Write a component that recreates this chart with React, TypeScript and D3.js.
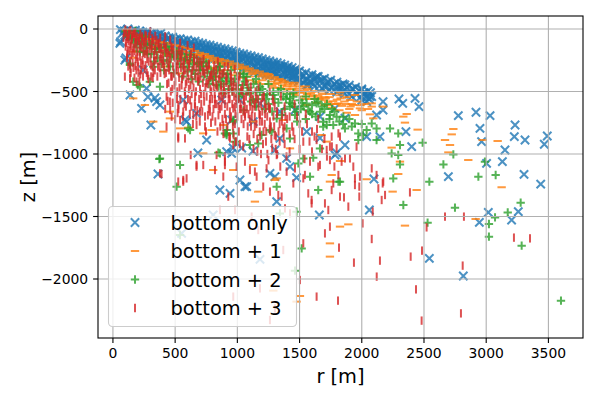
import * as d3 from "d3";

type P = [number, number];

// r [m], z [m]
const bottomOnly: P[] = [
  [60, -5], [90, -15], [120, 0], [150, -20], [180, -10], [210, -30], [240, -25], [270, -40], [300, -35], [330, -50],
  [360, -45], [390, -60], [420, -55], [450, -70], [480, -65], [510, -80], [540, -78], [570, -90], [600, -88], [630, -100],
  [660, -98], [690, -110], [720, -115], [750, -125], [780, -130], [810, -140], [840, -145], [870, -155], [900, -160], [930, -170],
  [960, -175], [990, -185], [1020, -195], [1050, -200], [1080, -210], [1110, -215], [1140, -225], [1170, -230], [1200, -240], [1230, -250],
  [1260, -255], [1290, -265], [1320, -270], [1350, -280], [1380, -290], [1410, -300], [1440, -310], [1470, -320], [1500, -335], [1550, -350],
  [1600, -365], [1650, -380], [1700, -395], [1750, -410], [1800, -425], [1850, -440], [1900, -450], [1950, -465], [2000, -480], [2050, -495],
  [100, -60], [160, -55], [230, -70], [290, -85], [350, -95], [420, -100], [480, -110], [540, -125], [610, -140], [680, -150],
  [740, -165], [800, -180], [860, -195], [920, -210], [980, -225], [1040, -240], [1100, -255], [1160, -270], [1220, -285], [1280, -300],
  [1340, -320], [1400, -335], [1460, -350], [1530, -380], [1620, -400], [1720, -430], [1820, -455], [1920, -480], [2020, -510], [2080, -540],
  [200, -110], [320, -130], [450, -150], [560, -170], [700, -200], [850, -230], [1000, -260], [1150, -300], [1300, -340], [1450, -380],
  [1580, -420], [1900, -520], [2060, -560],
  [75, -35], [95, -50], [130, -25], [145, -55], [170, -45], [195, -62], [215, -15], [235, -48], [255, -80], [275, -22],
  [295, -66], [315, -40], [345, -78], [365, -70], [385, -35], [405, -88], [435, -82], [465, -95], [495, -90], [525, -105],
  [555, -112], [585, -118], [615, -122], [645, -130], [675, -135], [705, -140], [735, -150], [765, -155], [795, -160], [825, -172],
  [855, -178], [885, -185], [915, -190], [945, -200], [975, -205], [1005, -215], [1035, -222], [1065, -230], [1095, -235], [1125, -245],
  [1155, -252], [1185, -262], [1215, -268], [1245, -278], [1275, -285], [1305, -292], [1335, -302], [1365, -310], [1395, -318], [1425, -325],
  [1455, -335], [1485, -345], [1520, -360], [1575, -372], [1630, -388], [1680, -405], [1730, -420], [1780, -438], [1830, -450], [1880, -468],
  [1930, -480], [1980, -495], [2030, -515], [1250, -320], [1380, -360], [1480, -400], [1600, -430], [1700, -460], [1810, -490], [1990, -545],
  [2000, -570], [2040, -580],
  [710, -170], [745, -185], [790, -195], [830, -205], [870, -220], [905, -235], [945, -245], [985, -255], [1015, -270], [1055, -280],
  [1090, -290], [1130, -300], [1170, -315], [1205, -325], [1245, -335], [1290, -345], [1320, -355], [1360, -365], [1405, -375], [1440, -390],
  [1500, -405], [1545, -415], [1610, -440], [1660, -455], [1755, -470], [1850, -500], [1960, -520], [2070, -510], [2040, -545], [2010, -520],
  [1270, -330], [1190, -300], [1310, -320], [1230, -310], [1350, -300], [1290, -290], [1400, -310], [1470, -370],
  [250, -95], [280, -110], [310, -100], [340, -120], [370, -125], [400, -115], [430, -140], [460, -135], [490, -150], [520, -160],
  [550, -150], [580, -170], [620, -175], [650, -185], [690, -190], [720, -200], [760, -215], [790, -225], [820, -235], [850, -245],
  [880, -250], [910, -260], [940, -270], [970, -275], [1000, -285], [1030, -295], [1060, -305], [1080, -320], [1110, -330], [1140, -340],
  [1170, -350], [1200, -355], [1230, -365], [1260, -370], [1300, -375], [1330, -385], [1370, -395], [1410, -400], [1450, -410], [1490, -420],
  [1530, -430], [1570, -445], [1620, -460], [1680, -475], [1740, -490], [1800, -505], [1860, -520], [1920, -540],
  [62, -101], [105, -232], [137, -528], [230, -635], [305, -768], [362, -1160], [281, -544], [351, -581], [378, -608], [592, -741],
  [683, -992], [753, -888], [914, -981], [1021, -1208], [1035, -952], [1125, -976], [1302, -968], [1396, -1035], [1476, -1189], [1557, -821],
  [1664, -872], [1798, -992], [1664, -408], [1557, -408], [1423, -352], [1206, -312], [1101, -272], [1718, -461],
  [1798, -461], [1865, -448], [1999, -488], [2066, -541], [2171, -581], [2171, -648], [2299, -560], [2329, -595], [2428, -555], [2460, -621],
  [2355, -821], [2401, -941], [2146, -861], [2039, -861], [1865, -928], [1865, -714], [2119, -688], [2776, -693], [2918, -666], [3031, -693],
  [2950, -795], [2963, -901], [3151, -968], [3130, -1061], [3003, -1075], [3232, -768], [3226, -861], [3312, -888], [3467, -922], [3491, -856],
  [3304, -1163], [3438, -1241], [2696, -1181], [2098, -1200],
  [2061, -1448], [2543, -1835], [2816, -1976], [3017, -1467], [2945, -1547], [3258, -1461], [3204, -1528],
  [860, -1288], [941, -1315], [1075, -1261], [1316, -1381], [1659, -1488], [552, -1635], [806, -1488], [1182, -1843],
  [579, -728], [1342, -875], [1785, -1008], [1423, -1101], [1262, -1155], [1302, -1181], [1061, -1261], [954, -995], [965, -952],
  [56, -115], [96, -248], [338, -552], [270, -475], [243, -328], [565, -568], [672, -675],
  [1021, -568], [1128, -741], [1342, -661], [1463, -648], [1664, -701], [1785, -635], [874, -568], [954, -728], [1182, -595], [1557, -448],
  [1637, -381], [1423, -341],
];

const bottomPlus1: P[] = [
  [110, -10], [150, -30], [200, -50], [250, -60], [300, -80], [340, -95], [380, -105], [420, -110], [460, -125], [500, -130],
  [540, -140], [580, -150], [620, -160], [660, -175], [700, -190], [740, -200], [780, -215], [820, -230], [860, -240], [900, -250],
  [940, -260], [980, -275], [1020, -285], [1060, -300], [1100, -315], [1140, -330], [1180, -340], [1220, -355], [1260, -370], [1300, -385],
  [1340, -400], [1380, -420], [1420, -430], [1460, -445], [1500, -460], [1560, -480], [1620, -500], [1680, -520], [1740, -545], [1800, -565],
  [1860, -580], [1920, -600],
  [160, -180], [240, -120], [330, -160], [430, -200], [520, -230], [600, -250], [700, -280], [800, -310], [900, -330], [1000, -350],
  [1100, -380], [1200, -410], [1300, -440], [1400, -480], [1500, -510], [1600, -540], [1700, -570], [1800, -600], [1900, -640], [2000, -650],
  [130, -45], [185, -70], [225, -85], [275, -100], [320, -115], [365, -125], [400, -140], [445, -150], [485, -160], [525, -170],
  [565, -178], [605, -190], [645, -200], [685, -210], [725, -222], [765, -232], [805, -245], [845, -255], [885, -268], [925, -278],
  [965, -290], [1005, -300], [1045, -312], [1085, -325], [1125, -345], [1165, -355], [1205, -368], [1245, -382], [1285, -398], [1325, -412],
  [1365, -430], [1405, -445], [1445, -460], [1490, -478], [1540, -495], [1590, -515], [1650, -535], [1710, -555], [1770, -578], [1840, -615],
  [1880, -545], [1960, -580], [2020, -600], [1600, -500], [1660, -560], [1750, -520], [1540, -560], [1450, -520], [1300, -470], [1150, -420],
  [1010, -320], [1070, -340], [1120, -360], [1180, -380], [1230, -395], [1270, -420], [1320, -430], [1360, -450], [1400, -460], [1440, -480],
  [1480, -495], [1520, -505], [1560, -520], [1610, -530], [1650, -550], [1700, -545], [1730, -585], [1780, -600], [1830, -555], [1870, -600],
  [1910, -620], [1990, -610], [2050, -640], [1550, -460], [1460, -430], [1360, -410], [1250, -360], [1820, -530], [1690, -500],
  [350, -140], [410, -165], [470, -180], [530, -195], [590, -215], [650, -225], [710, -240], [770, -255], [830, -270], [890, -290],
  [950, -305], [990, -320],
  [300, -150], [380, -185], [440, -210], [500, -220], [560, -240], [620, -265], [680, -275], [740, -295], [800, -320], [860, -340],
  [920, -355], [980, -370], [1040, -390], [1100, -410], [1160, -430], [1220, -440], [1280, -455], [1340, -470], [1400, -500], [1470, -530],
  [1530, -540], [1590, -560], [1640, -590], [1700, -610], [1760, -630], [1820, -650], [1880, -670],
  [257, -608], [324, -741], [405, -821], [458, -715], [539, -795], [726, -995], [806, -1128], [967, -1128], [1128, -1088], [726, -835],
  [793, -808], [605, -789], [163, -555], [1423, -955], [1316, -1195], [1744, -1221], [1718, -901], [1677, -848], [1557, -608], [1731, -608],
  [1369, -728], [1128, -741], [887, -768], [458, -661],
  [1825, -507], [1945, -528], [1905, -568], [1810, -595], [1930, -608], [1985, -635], [2080, -595], [2080, -621], [2066, -683], [2093, -715],
  [1945, -688], [2171, -621], [2361, -680], [2334, -701], [2347, -749], [2449, -805], [2736, -800], [2723, -843], [2669, -888], [2709, -928],
  [2696, -987], [2856, -1048], [2972, -888], [3092, -896], [2240, -949], [2307, -1061], [2293, -1160], [2039, -1202], [1825, -1056], [1758, -1168],
  [3124, -1266], [2441, -1288], [2248, -1301], [2347, -1573], [2915, -1520], [1892, -1563], [1825, -1581],
  [1168, -1301], [1141, -1381], [1302, -1208], [1744, -1715], [1744, -1821], [1503, -2136], [1476, -2181], [1289, -2093],
  [110, -8], [160, -230], [431, -300], [539, -355], [700, -208], [753, -221], [833, -381], [874, -275], [190, -180], [245, -180],
];

const bottomPlus2: P[] = [
  [100, -20], [140, -40], [180, -15], [220, -50], [260, -60], [200, -100], [300, -120], [380, -150], [450, -170], [550, -200],
  [650, -230], [750, -270], [850, -300], [950, -330], [1050, -360], [1150, -400], [1250, -440], [1350, -480], [1450, -510], [1550, -540],
  [1650, -580],
  [115, -60], [155, -80], [170, -110], [230, -120], [270, -130], [280, -200], [340, -160], [360, -230], [420, -190], [440, -260],
  [480, -200], [520, -240], [580, -250], [600, -300], [680, -270], [700, -330], [760, -300], [790, -340], [840, -330], [880, -390],
  [920, -360], [980, -400], [1000, -450], [1060, -420], [1090, -470], [1130, -440], [1200, -480], [1240, -520], [1300, -560], [1330, -500],
  [1400, -520], [1420, -590], [1500, -570], [1530, -620], [1600, -610], [1620, -560], [1700, -640], [1720, -600], [1780, -660], [1820, -740],
  [1900, -720], [1920, -780], [2000, -760], [2010, -850], [1550, -720], [1480, -740], [1380, -640], [1250, -600], [1150, -620], [1050, -650],
  [1180, -500], [1230, -560], [1330, -590], [1390, -560], [1440, -600], [1510, -640], [1570, -650], [1630, -700], [1680, -620], [1740, -720],
  [1760, -640], [1850, -760], [1600, -680], [1520, -590], [1460, -620], [1080, -500], [1000, -480], [950, -420], [870, -420], [820, -380],
  [760, -350], [700, -300], [640, -280], [580, -230], [520, -210],
  [260, -150], [310, -200], [330, -260], [390, -280], [410, -330], [460, -300], [490, -350], [540, -280], [560, -380], [600, -340],
  [630, -400], [660, -360], [690, -420], [730, -380], [770, -440], [800, -410], [850, -460], [890, -440], [930, -480], [960, -500],
  [1010, -540], [1040, -520], [1110, -580], [1160, -560], [1220, -640], [1280, -660],
  [190, -145], [245, -185], [137, -288], [200, -448], [378, -1035], [539, -1088], [620, -248], [700, -261], [780, -395], [833, -448],
  [926, -395], [1048, -448], [1101, -515], [1208, -528], [1289, -528], [1423, -555], [1476, -661], [1584, -661], [1664, -661], [1690, -741],
  [1637, -595], [967, -741], [967, -835], [914, -835], [1195, -848], [1276, -821], [1423, -875], [860, -995], [1168, -915], [1530, -1035],
  [1610, -1029], [620, -808], [1316, -715], [1356, -688], [1048, -381], [1155, -501], [1423, -621], [1463, -688], [1718, -768],
  [1744, -688], [1852, -701], [1771, -768], [1865, -795], [1945, -755], [1972, -835], [2039, -808], [2080, -755], [2119, -795], [2119, -888],
  [1972, -888], [2227, -795], [2293, -835], [2307, -928], [2240, -995], [2293, -1008], [2307, -1083], [2489, -909], [2736, -1003], [2656, -1083],
  [2990, -1061], [2937, -1181], [3076, -1168], [2543, -1221], [2253, -1195], [1825, -1221],
  [2334, -1408], [2749, -1429], [2529, -1549], [3071, -1507], [3022, -1560], [3022, -1661], [3173, -1467], [3277, -1389], [3285, -1733], [3601, -2173],
  [512, -1261], [1650, -1288], [1517, -1755], [1463, -1933], [1476, -1461], [1316, -1261], [1342, -1475], [539, -1648],
  [1262, -808], [1664, -955], [1490, -1075], [1584, -1181], [1812, -1221], [914, -848], [1101, -928], [981, -901],
  [373, -1040], [847, -989], [900, -835], [605, -795],
  [137, -275], [163, -421], [297, -421], [324, -301], [405, -248], [472, -221], [565, -301], [646, -328], [726, -328], [806, -355],
  [860, -301], [217, -181], [351, -181], [431, -141], [512, -181], [620, -208], [726, -261], [378, -461], [217, -461],
  [887, -355], [941, -435], [1021, -355], [1075, -381], [1182, -461], [1289, -501], [1369, -541], [1450, -541], [1798, -701], [1690, -781],
  [1557, -595], [967, -728], [914, -808], [1396, -795], [1021, -515], [1128, -568], [887, -515],
];

const bottomPlus3: P[] = [
  [100, -5], [140, -10], [180, -25], [220, -35], [260, -45], [300, -20], [340, -55], [380, -70], [420, -60], [460, -85],
  [500, -100], [540, -110], [600, -130], [650, -150],
  [90, -30], [110, -60], [130, -20], [150, -90], [170, -40], [190, -120], [210, -70], [230, -150], [250, -100], [270, -180],
  [290, -60], [310, -130], [330, -210], [350, -90], [370, -160], [390, -240], [410, -120], [430, -190], [450, -270], [470, -140],
  [490, -220], [510, -300], [530, -170], [550, -250], [570, -330], [590, -200], [610, -280], [630, -360], [650, -230], [670, -310],
  [690, -400], [710, -260], [730, -340], [750, -430], [770, -290], [790, -370], [810, -460], [830, -320], [850, -400], [870, -490],
  [890, -350], [910, -430], [930, -520], [950, -380], [970, -460], [990, -550], [1010, -410], [1030, -490], [1050, -580], [1080, -440],
  [1110, -520], [1140, -600], [1170, -470], [1200, -550], [1230, -630], [1260, -500], [1290, -580], [1320, -660], [1350, -540], [1380, -620],
  [1420, -700], [1460, -600], [1500, -760], [1550, -680], [1600, -820], [1650, -720],
  [120, -165], [160, -190], [200, -262], [240, -285], [280, -372], [320, -390], [440, -575], [480, -590],
  [520, -672], [140, -318], [180, -296], [220, -362], [420, -640], [460, -648],
  [500, -722], [540, -728], [580, -520], [620, -570], [660, -620], [700, -660], [740, -700], [780, -560], [820, -600], [860, -640],
  [900, -680], [940, -720], [980, -760], [1020, -640], [1060, -680], [1100, -720], [1140, -780], [1180, -820], [1220, -760], [1260, -800],
  [1300, -850], [1340, -900], [1380, -780], [1420, -840],
  [85, -70], [105, -110], [115, -200], [125, -95], [135, -260], [145, -140], [155, -45], [165, -310], [175, -175], [185, -85],
  [195, -225], [205, -350], [215, -130], [225, -270], [235, -60], [245, -190], [255, -320], [265, -110], [275, -240], [285, -400],
  [295, -160], [305, -290], [315, -75], [325, -350], [335, -170], [345, -250], [365, -120], [375, -310], [385, -200],
  [405, -260], [415, -360], [425, -140], [435, -440], [445, -310], [455, -210], [465, -500], [475, -380], [485, -160],
  [495, -450], [505, -260], [515, -560], [525, -340], [535, -470], [545, -200], [555, -400], [565, -290], [575, -600], [585, -440],
  [600, -350], [610, -480], [620, -230], [630, -620], [640, -410], [650, -300], [660, -540], [670, -700], [680, -380], [690, -260],
  [700, -480], [710, -600], [720, -340], [730, -520], [740, -780], [750, -300], [760, -440], [770, -640], [780, -380], [790, -500],
  [800, -700], [810, -340], [820, -560], [830, -450], [840, -820], [850, -620], [860, -380], [870, -540], [880, -720], [890, -460],
  [900, -600], [910, -380], [920, -780], [930, -560], [940, -660], [950, -420], [960, -500], [970, -850], [980, -620], [990, -460],
  [1000, -700], [1010, -560], [1020, -920], [1030, -640], [1040, -500], [1050, -760], [1060, -620], [1070, -540], [1080, -860], [1090, -680],
  [1100, -580], [1110, -780], [1120, -640], [1130, -960], [1140, -700], [1150, -560], [1160, -880], [1170, -620], [1180, -740], [1190, -1000],
  [1200, -660], [1210, -820], [1220, -600], [1230, -900], [1240, -700], [1250, -1050], [1260, -640], [1270, -780], [1280, -950], [1290, -700],
  [1300, -620], [1310, -860], [1320, -1000], [1340, -760], [1360, -680], [1380, -920], [1400, -720], [1420, -980], [1440, -780], [1460, -880],
  [1480, -700], [1500, -960], [1520, -820], [1540, -1040], [1560, -760], [1580, -900], [1600, -980], [1620, -860], [1640, -800], [1680, -960],
  [1700, -880], [1720, -1020], [1760, -940], [1780, -1100],
  [102, -140], [108, -25], [113, -230], [118, -80], [123, -300], [128, -45], [133, -175], [138, -120], [143, -350], [148, -210],
  [153, -70], [158, -270], [163, -150], [168, -30], [173, -390], [178, -110], [183, -240], [188, -330], [193, -60], [198, -180],
  [203, -300], [207, -95], [212, -420], [217, -220], [222, -140], [227, -330], [232, -80], [237, -250], [242, -380], [247, -120],
  [257, -200], [262, -290], [267, -55], [272, -350], [277, -170], [287, -260], [292, -100],
  [302, -230], [307, -380], [312, -160], [317, -300], [322, -90], [332, -260], [337, -330], [342, -140],
  [352, -210], [357, -380], [362, -300], [367, -110], [377, -240], [382, -350], [387, -150], [397, -280],
  [402, -200], [412, -300], [422, -160], [427, -350], [432, -250], [442, -190], [447, -430],
  [452, -330], [462, -240], [467, -380], [472, -170], [477, -480], [482, -300], [492, -360], [497, -230],
  [502, -420], [507, -330], [512, -200], [517, -500], [522, -280], [527, -640], [532, -390], [537, -230], [542, -560], [547, -310],
  [552, -450], [557, -180], [562, -700], [567, -370], [572, -260], [577, -500], [582, -330], [587, -620], [592, -420], [597, -250],
  [603, -560], [608, -400], [613, -300], [618, -680], [623, -450], [628, -200], [633, -520], [638, -330], [643, -760], [648, -470],
  [653, -260], [658, -600], [663, -380], [668, -500], [673, -240], [678, -650], [683, -420], [688, -320], [693, -560], [698, -740],
  [703, -380], [708, -520], [713, -290], [718, -660], [723, -430], [728, -240], [733, -580], [738, -360], [743, -470], [748, -820],
  [753, -540], [758, -330], [763, -690], [768, -410], [773, -280], [778, -600], [783, -480], [788, -750], [793, -360], [798, -560],
  [803, -420], [808, -640], [813, -290], [818, -520], [823, -740], [828, -380], [833, -600], [838, -470], [843, -260], [848, -690],
  [853, -540], [858, -330], [863, -780], [868, -450], [873, -620], [878, -360], [883, -560], [888, -840], [893, -500], [898, -300],
  [904, -520], [909, -720], [914, -400], [919, -620], [924, -300], [929, -480], [934, -860], [939, -560], [944, -360], [949, -700],
  [954, -470], [959, -600], [964, -780], [969, -420], [974, -540], [979, -320], [984, -680], [989, -900], [994, -600], [999, -380],
  [1004, -480], [1012, -820], [1018, -380], [1026, -600], [1033, -720], [1041, -460], [1047, -940], [1054, -560], [1062, -700], [1069, -420],
  [1076, -640], [1083, -780], [1089, -500], [1096, -880], [1103, -620],
  [1108, -460], [1116, -700], [1123, -560], [1131, -840], [1138, -620], [1146, -500], [1153, -760], [1161, -980], [1168, -560], [1176, -680],
  [1183, -860], [1191, -600], [1198, -740],
  [1206, -920], [1214, -540], [1223, -680], [1232, -820], [1241, -1000], [1251, -620], [1262, -740], [1273, -880], [1284, -560], [1296, -780],
  [1308, -960], [1319, -680], [1331, -820], [1345, -1100], [1358, -740], [1372, -860], [1386, -700], [1395, -1020],
  [96, -381], [137, -395], [190, -421], [431, -541], [458, -581], [525, -608], [565, -661], [646, -688], [672, -768], [780, -661],
  [887, -768], [941, -875], [994, -901], [1048, -661], [1182, -688], [1262, -635], [1369, -795], [1450, -821], [1530, -901], [1584, -1061],
  [1664, -1088], [1744, -941], [525, -875], [579, -875], [672, -1088], [592, -1195], [833, -1008], [900, -1061], [967, -928], [1061, -1061],
  [1141, -1141], [1235, -1115], [1316, -1008], [1396, -1141], [1463, -1115], [1543, -1168], [1650, -1101], [1812, -1168], [1812, -835], [378, -1155],
  [525, -1221], [967, -635],
  [1758, -861], [1825, -861], [1798, -955], [1865, -1035], [1905, -1035], [1932, -1101], [1958, -941], [2080, -1115], [1945, -1195], [1985, -1181],
  [2119, -1168], [2173, -1221],
  [1758, -1288], [1945, -1248], [1980, -1261], [1857, -1347], [1980, -1341], [2133, -1275], [2168, -1235], [2187, -1328], [2160, -1368], [2088, -1461],
  [2007, -1555], [2080, -1680], [1817, -1749], [1937, -1869], [2146, -1853], [2120, -1981], [2387, -1307], [2393, -1821], [2484, -1773], [2521, -1587],
  [2669, -1501], [2821, -1501], [2811, -1893], [2436, -2083], [2481, -2333], [2797, -2275], [3223, -1669], [3352, -1675], [1809, -2173],
  [565, -1221], [1208, -1261], [1262, -1301], [1329, -1328], [1450, -1235], [1570, -1315], [1597, -1368], [1704, -1395], [1731, -1448], [1744, -1581],
  [1704, -1635], [1530, -1715], [1503, -2008], [1637, -2141], [860, -1448], [981, -1448], [1115, -1501], [1168, -1608], [1369, -1768], [1182, -2075],
  [967, -2141], [1262, -2328], [1302, -2235], [1423, -1475],
  [900, -1021], [994, -1101], [1101, -1128], [1155, -1181], [1356, -1341], [1530, -1195], [1597, -1395], [1744, -1048], [1771, -1235], [1825, -1341],
  [1892, -1421], [887, -1181], [1383, -1435], [1637, -888], [1718, -968], [1838, -1061],
  [391, -1160], [565, -1208], [672, -1101], [726, -1088], [625, -1008], [820, -1128], [900, -1088], [525, -861], [431, -781], [472, -701],
  [927, -1341],
];

const seriesLabels = ["bottom only", "bottom + 1", "bottom + 2", "bottom + 3"];
const seriesColors = ["#1f77b4", "#ff7f0e", "#2ca02c", "#d62728"];
const seriesMarkers = ["x", "_", "+", "|"];
const seriesData = [bottomOnly, bottomPlus1, bottomPlus2, bottomPlus3];

const xTicks = [0, 500, 1000, 1500, 2000, 2500, 3000, 3500];
const yTicks = [0, -500, -1000, -1500, -2000];

const W = 600;
const H = 400;
const m = { left: 98, right: 583, top: 16, bottom: 338 };

function markerPath(kind: string, h: number) {
  if (kind === "x") return `M${-h},${-h}L${h},${h}M${-h},${h}L${h},${-h}`;
  if (kind === "+") return `M${-h},0L${h},0M0,${-h}L0,${h}`;
  if (kind === "_") return `M${-h},0L${h},0`;
  return `M0,${-h}L0,${h}`;
}

const minus = (v: number) => String(v).replace("-", "\u2212");

export default function App() {
  const x = d3.scaleLinear().domain([-120, 3778]).range([m.left, m.right]);
  const y = d3.scaleLinear().domain([104, -2472]).range([m.top, m.bottom]);
  const h = 4.17;
  const font = "DejaVu Sans, sans-serif";

  return (
    <svg width={W} height={H} style={{ position: "absolute", left: 0, top: 0 }} fontFamily={font}>
      <rect width={W} height={H} fill="white" />
      <defs>
        <clipPath id="plot">
          <rect x={m.left} y={m.top} width={m.right - m.left} height={m.bottom - m.top} />
        </clipPath>
      </defs>

      <g clipPath="url(#plot)">
        {seriesData.map((pts, si) => (
          <g key={si} stroke={seriesColors[si]} strokeWidth={2} fill="none">
            {pts.map((p, i) => (
              <path
                key={i}
                d={markerPath(seriesMarkers[si], h)}
                transform={`translate(${x(p[0])},${y(p[1])})`}
                strokeOpacity={0.8}
              />
            ))}
          </g>
        ))}
      </g>

      {/* grid sits above the collections, like matplotlib's default */}
      <g stroke="#b0b0b0" strokeWidth={1.1}>
        {xTicks.map((t) => (
          <line key={t} x1={x(t)} x2={x(t)} y1={m.top} y2={m.bottom} />
        ))}
        {yTicks.map((t) => (
          <line key={t} x1={m.left} x2={m.right} y1={y(t)} y2={y(t)} />
        ))}
      </g>

      <rect
        x={m.left}
        y={m.top}
        width={m.right - m.left}
        height={m.bottom - m.top}
        fill="none"
        stroke="black"
        strokeWidth={1.1}
      />

      <g fontSize={13.9} fill="black">
        {xTicks.map((t) => (
          <g key={t}>
            <line x1={x(t)} x2={x(t)} y1={m.bottom} y2={m.bottom + 4.9} stroke="black" strokeWidth={1.1} />
            <text x={x(t)} y={m.bottom + 20} textAnchor="middle">
              {minus(t)}
            </text>
          </g>
        ))}
        {yTicks.map((t) => (
          <g key={t}>
            <line x1={m.left - 4.9} x2={m.left} y1={y(t)} y2={y(t)} stroke="black" strokeWidth={1.1} />
            <text x={m.left - 9.8} y={y(t) + 5} textAnchor="end">
              {minus(t)}
            </text>
          </g>
        ))}
      </g>

      <text x={(m.left + m.right) / 2} y={383} textAnchor="middle" fontSize={19.4}>
        r [m]
      </text>
      <text transform={`translate(35,${(m.top + m.bottom) / 2}) rotate(-90)`} textAnchor="middle" fontSize={19.4}>
        z [m]
      </text>

      {/* legend */}
      <g>
        <rect x={108.5} y={206.5} width={188} height={120} rx={4} fill="white" fillOpacity={0.8} stroke="#cccccc" strokeWidth={1.1} />
        {seriesLabels.map((lab, i) => {
          const cy = 222.5 + i * 28.5;
          return (
            <g key={lab}>
              <path
                d={markerPath(seriesMarkers[i], h)}
                transform={`translate(135,${cy})`}
                stroke={seriesColors[i]}
                strokeOpacity={0.8}
                strokeWidth={2}
                fill="none"
              />
              <text x={170.5} y={cy + 7} fontSize={19.4}>
                {lab}
              </text>
            </g>
          );
        })}
      </g>
    </svg>
  );
}
